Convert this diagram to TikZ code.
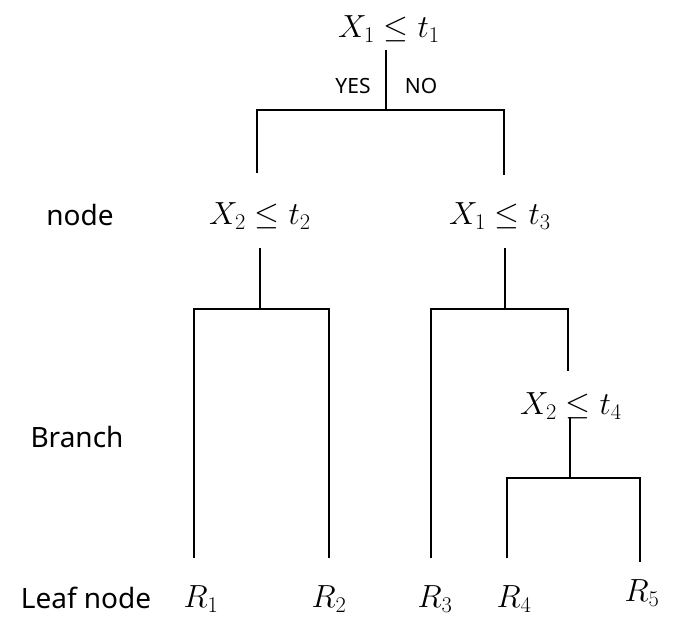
\documentclass[tikz,border=0pt]{standalone}
\usepackage{fix-cm}
\usepackage{fontspec}
\setmainfont{Noto Sans}
\begin{document}
\begin{tikzpicture}[x=1pt,y=-1pt,
  cond/.style={inner sep=0pt, font=\fontsize{32}{38}\selectfont},
  side/.style={inner sep=0pt, font=\fontsize{28}{33}\selectfont},
  yn/.style={inner sep=0pt, font=\fontsize{21}{25}\selectfont},
  edge/.style={line width=1.4pt}]
\useasboundingbox (0,0) rectangle (673,617);
% condition nodes
\node[cond] (r) at (389,29) {$X_1 \le t_1$};
\node[cond] (a) at (260,216) {$X_2 \le t_2$};
\node[cond] (b) at (500,216) {$X_1 \le t_3$};
\node[cond] (c) at (571,406) {$X_2 \le t_4$};
% leaves
\node[cond] (l1) at (201,599) {$R_1$};
\node[cond] (l2) at (329,599) {$R_2$};
\node[cond] (l3) at (435,599) {$R_3$};
\node[cond] (l4) at (514,599) {$R_4$};
\node[cond] (l5) at (642,593) {$R_5$};
% side labels
\node[side] (sn) at (80,215) {node};
\node[side] (sb) at (77,437) {Branch};
\node[side] (sl) at (86,598) {Leaf node};
\node[yn] (yes) at (353,86) {YES};
\node[yn] (no) at (421,86) {NO};
% junction coordinates
\coordinate (r0) at (386,50);
\coordinate (r1) at (386,110);
\coordinate (rl) at (257,110);
\coordinate (rr) at (504,110);
\coordinate (rle) at (257,173);
\coordinate (rre) at (504,175);
\coordinate (a0) at (260,248);
\coordinate (a1) at (260,309);
\coordinate (al) at (194,309);
\coordinate (ar) at (329,309);
\coordinate (ale) at (194,558);
\coordinate (are) at (329,558);
\coordinate (b0) at (505,248);
\coordinate (b1) at (505,309);
\coordinate (bl) at (431,309);
\coordinate (br) at (568,309);
\coordinate (ble) at (431,558);
\coordinate (bre) at (568,371);
\coordinate (c0) at (570,417);
\coordinate (c1) at (570,478);
\coordinate (cl) at (507,478);
\coordinate (cr) at (640,478);
\coordinate (cle) at (507,558);
\coordinate (cre) at (640,562);
% connectors
\draw[edge] (r0) -- (r1);
\draw[edge] (rle) -- (rl) -- (rr) -- (rre);
\draw[edge] (a0) -- (a1);
\draw[edge] (ale) -- (al) -- (ar) -- (are);
\draw[edge] (b0) -- (b1);
\draw[edge] (ble) -- (bl) -- (br) -- (bre);
\draw[edge] (c0) -- (c1);
\draw[edge] (cle) -- (cl) -- (cr) -- (cre);
\end{tikzpicture}
\end{document}
